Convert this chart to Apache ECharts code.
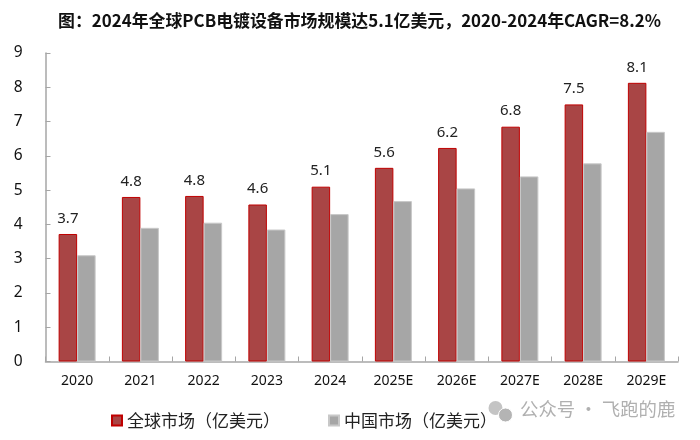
<!DOCTYPE html>
<html><head><meta charset="utf-8">
<style>html,body{margin:0;padding:0;background:#fff}#c{width:700px;height:440px}</style>
<script src="https://cdn.jsdelivr.net/npm/echarts@6/dist/echarts.min.js"></script>
</head><body><div id="c"></div>
<script>
const categories=['2020','2021','2022','2023','2024','2025E','2026E','2027E','2028E','2029E'];
const globalMarket=[3.72,4.8,4.83,4.58,5.1,5.65,6.23,6.85,7.5,8.13];
const chinaMarket=[3.1,3.9,4.05,3.85,4.3,4.68,5.05,5.4,5.78,6.7];
const globalLabels=['3.7','4.8','4.8','4.6','5.1','5.6','6.2','6.8','7.5','8.1'];
const titleText='图：2024年全球PCB电镀设备市场规模达5.1亿美元，2020-2024年CAGR=8.2%';
const nameGlobal='全球市场（亿美元）';
const nameChina='中国市场（亿美元）';
const cjk='"Noto Sans CJK SC","Noto Sans",sans-serif';
const chart=echarts.init(document.getElementById('c'),null,{renderer:'canvas'});
chart.setOption({
 animation:false,backgroundColor:'#fff',
 title:{text:titleText,left:354.5,textAlign:'center',top:7,textStyle:{fontFamily:cjk,fontWeight:'bold',fontSize:16.9,color:'#111'}},
 grid:{left:45.5,right:22,top:53,bottom:78.5,containLabel:false},
 legend:{left:106,top:407,itemWidth:10,itemHeight:10,itemGap:48,icon:'rect',
  textStyle:{fontFamily:cjk,fontSize:17,color:'#222'}},
 xAxis:{type:'category',data:categories,
  axisLine:{lineStyle:{color:'#a6a6a6',width:1.5}},
  axisTick:{show:true,inside:true,length:5,alignWithLabel:false,lineStyle:{color:'#a6a6a6',width:1}},
  axisLabel:{fontFamily:'"Noto Sans",sans-serif',fontSize:14,color:'#111',margin:13,interval:0}},
 yAxis:{type:'value',min:0,max:9,interval:1,
  splitLine:{show:false},
  axisLine:{show:true,lineStyle:{color:'#a6a6a6',width:1.5}},
  axisTick:{show:true,inside:true,length:5,lineStyle:{color:'#a6a6a6',width:1}},
  axisLabel:{fontFamily:'"Noto Sans",sans-serif',fontSize:15.5,color:'#111',margin:23}},
 series:[
  {name:nameGlobal,type:'bar',data:globalMarket,barWidth:18.5,barGap:'0%',
   itemStyle:{color:'#a94545',borderColor:'#c00000',borderWidth:1},
   label:{show:true,position:'top',distance:8,fontFamily:'"Noto Sans",sans-serif',fontSize:15,color:'#222',
    formatter:p=>globalLabels[p.dataIndex]}},
  {name:nameChina,type:'bar',data:chinaMarket,barWidth:18.5,
   itemStyle:{color:'#a6a6a6',borderColor:'#c8c8c8',borderWidth:1}}
 ],
 graphic:[
  {type:'circle',shape:{cx:495.5,cy:408,r:7},style:{fill:'#c4c4c4'},silent:true},
  {type:'circle',shape:{cx:505.5,cy:415,r:7},style:{fill:'#b4b4b4',stroke:'#fff',lineWidth:1},silent:true},
  {type:'text',left:520,top:400,silent:true,style:{text:'公众号 · 飞跑的鹿',fontFamily:cjk,fontSize:18.4,fill:'#b0b0b0'}}
 ]
});
</script></body></html>
